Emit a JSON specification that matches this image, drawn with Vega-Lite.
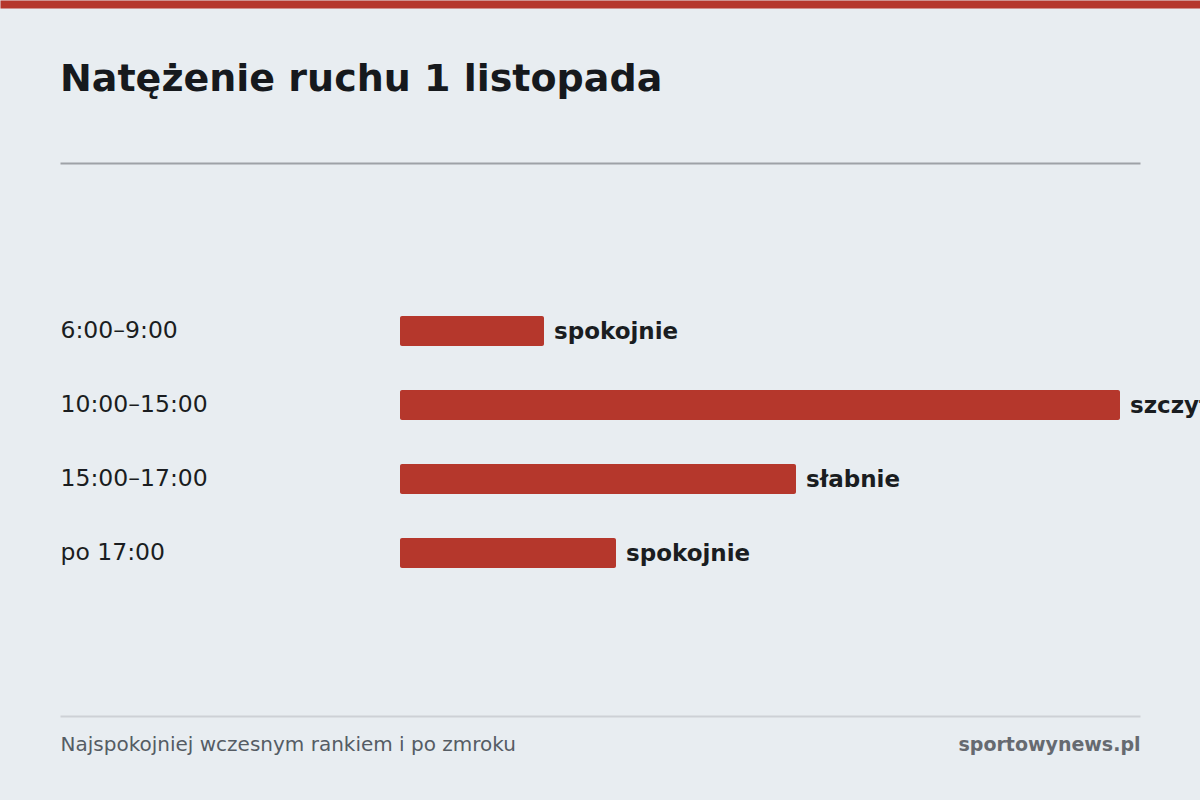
{
  "$schema": "https://vega.github.io/schema/vega-lite/v6.json",
  "width": 1080,
  "height": 553,
  "autosize": {"type": "none"},
  "padding": {"left": 60, "top": 163, "right": 60, "bottom": 84},
  "background": "#e8edf1",
  "title": {
    "text": "Natężenie ruchu 1 listopada",
    "anchor": "start",
    "frame": "group",
    "fontSize": 38,
    "fontWeight": "bold",
    "font": "DejaVu Sans",
    "color": "#16191d",
    "baseline": "alphabetic",
    "offset": -125
  },
  "data": {
    "values": [
      {"slot": "6:00–9:00", "value": 20, "status": "spokojnie"},
      {"slot": "10:00–15:00", "value": 100, "status": "szczyt"},
      {"slot": "15:00–17:00", "value": 55, "status": "słabnie"},
      {"slot": "po 17:00", "value": 30, "status": "spokojnie"}
    ]
  },
  "layer": [
    {
      "mark": {"type": "bar", "color": "#b5372c", "cornerRadius": 2},
      "encoding": {
        "y": {
          "field": "slot", "type": "nominal", "sort": null, "title": null,
          "scale": {"paddingInner": 0.5946, "paddingOuter": 0, "range": [153, 405]}
        },
        "x": {
          "field": "value", "type": "quantitative",
          "scale": {"domain": [-47.2222, 102.7778], "nice": false, "zero": false},
          "axis": {
            "orient": "top", "title": null, "labels": false, "ticks": false, "tickSize": 0,
            "grid": false, "domain": true, "domainColor": "#9ea2a7", "domainWidth": 2, "domainCap": "butt"
          }
        }
      }
    },
    {
      "mark": {"type": "text", "align": "left", "baseline": "middle", "dx": 10, "dy": 1, "fontSize": 23, "fontWeight": "bold", "color": "#1a1d21", "font": "DejaVu Sans"},
      "encoding": {
        "y": {
          "field": "slot", "type": "nominal", "sort": null, "title": null,
          "scale": {"paddingInner": 0.5946, "paddingOuter": 0, "range": [153, 405]}
        },
        "x": {
          "field": "value", "type": "quantitative",
          "scale": {"domain": [-47.2222, 102.7778], "nice": false, "zero": false},
          "axis": {
            "orient": "bottom", "title": null, "ticks": false, "tickSize": 0, "grid": false,
            "domainColor": "#cdd1d6", "domainWidth": 2, "domainCap": "butt",
            "values": [-47.2222, 102.7778],
            "labelExpr": "datum.value < 0 ? 'Najspokojniej wczesnym rankiem i po zmroku' : 'sportowynews.pl'",
            "labelFlush": true,
            "labelOverlap": false,
            "labelBound": false,
            "labelLimit": 2000,
            "labelAlign": {"condition": {"test": "datum.value < 0", "value": "left"}, "value": "right"},
            "labelFontWeight": {"condition": {"test": "datum.value < 0", "value": "normal"}, "value": "bold"},
            "labelColor": {"condition": {"test": "datum.value < 0", "value": "#555c64"}, "value": "#666a70"},
            "labelFontSize": {"condition": {"test": "datum.value < 0", "value": 20}, "value": 19},
            "labelBaseline": "alphabetic",
            "labelPadding": 34
          }
        },
        "text": {"field": "status", "type": "nominal"}
      }
    },
    {
      "mark": {"type": "tick", "opacity": 0},
      "encoding": {
        "x": {
          "field": "value", "type": "quantitative",
          "scale": {"domain": [0, 100], "range": [-60, 1140], "nice": false, "zero": false},
          "axis": {
            "orient": "top", "offset": 159, "title": null, "labels": false, "ticks": false, "tickSize": 0,
            "grid": false, "domainColor": "#b5372c", "domainWidth": 8, "domainCap": "butt"
          }
        }
      }
    }
  ],
  "resolve": {"scale": {"x": "independent"}, "axis": {"x": "independent"}},
  "config": {
    "font": "DejaVu Sans",
    "view": {"stroke": null},
    "axisY": {
      "domain": false, "ticks": false, "tickSize": 0, "grid": false,
      "labelAlign": "left", "labelPadding": 0, "labelBaseline": "middle",
      "labelFontSize": 23.5, "labelColor": "#1a1d21", "labelFont": "DejaVu Sans", "labelLimit": 1000
    },
    "axis": {"labelFont": "DejaVu Sans"}
  }
}
